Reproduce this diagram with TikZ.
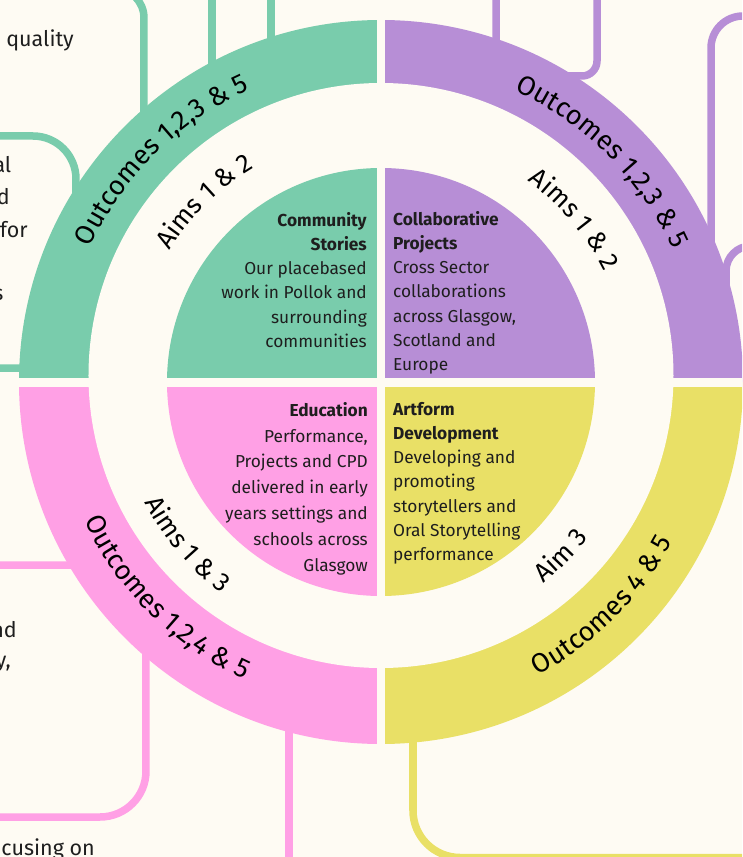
\documentclass[tikz,border=0pt]{standalone}
\usepackage{fontspec}
\setmainfont{Fira Sans}
\usetikzlibrary{decorations.text}

\definecolor{paper}{HTML}{FEFBF3}
\definecolor{cgreen}{HTML}{79CCAC}
\definecolor{cpurple}{HTML}{B78ED6}
\definecolor{cpink}{HTML}{FFA0E5}
\definecolor{cyellow}{HTML}{E9E066}
\definecolor{ink}{HTML}{1E1E1E}

\begin{document}
\begin{tikzpicture}[x=1pt,y=1pt,
  link/.style={line width=7.5pt},
  body/.style={inner sep=0pt, text=ink, font=\fontsize{17.3}{24.2}\selectfont},
  side/.style={inner sep=0pt, text=ink, font=\fontsize{21.5}{24}\selectfont, anchor=base east},
  outcometext/.style={decorate, decoration={text along path, text align=center,
      text color=black, text={|\fontsize{27}{27}\selectfont|#1}}},
  aimtext/.style={decorate, decoration={text along path, text align=center,
      text color=black, text={|\fontsize{26}{26}\selectfont|#1}}}
]
\useasboundingbox (-381,-475) rectangle (361,382);
\clip (-381,-475) rectangle (361,382);
\fill[paper] (-381,-475) rectangle (361,382);

% ---- boxes and links around the wheel (partly hidden behind it) ----
\draw[cgreen, link, rounded corners=30] (-300,394) -- (-237,394) -- (-237,250);
\draw[cgreen, link] (-169,392) -- (-169,300);
\draw[cgreen, link] (-110,392) -- (-110,320);
\draw[cgreen, link, rounded corners=43] (-420,246) -- (-305,246) -- (-305,14) -- (-420,14);

\draw[cpurple, link, rounded corners=15] (115,400) -- (115,306) -- (216,306) -- (216,400);
\draw[cpurple, link, rounded corners=32] (330,100) -- (330,366) -- (420,366);
\draw[cpurple, link, rounded corners=25] (345,60) -- (345,136) -- (420,136);

\draw[cpink, link, rounded corners=46] (-420,-183) -- (-235,-183) -- (-235,-435) -- (-420,-435);
\draw[cpink, link] (-92,-300) -- (-92,-490);

\draw[cyellow, link, rounded corners=47] (32,-300) -- (32,-475.5) -- (420,-475.5);

% ---- text of the neighbouring boxes ----
\node[side] (t1) at (-307,335.5) {quality};
\node[side] (t2) at (-369.5,209) {al};
\node[side] (t3) at (-371,177) {d};
\node[side] (t4) at (-353,144) {for};
\node[side] (t5) at (-377.5,82) {s};
\node[side] (t6) at (-364,-255) {nd};
\node[side] (t7) at (-370,-285) {y,};
\node[side] (t8) at (-286,-473) {cusing on};

% ---- outer ring ----
\fill[cgreen]  (0,0) -- (180:362) arc[start angle=180, end angle=90,  radius=362] -- cycle;
\fill[cpurple] (0,0) -- (90:362)  arc[start angle=90,  end angle=0,   radius=362] -- cycle;
\fill[cpink]   (0,0) -- (180:362) arc[start angle=180, end angle=270, radius=362] -- cycle;
\fill[cyellow] (0,0) -- (270:362) arc[start angle=270, end angle=360, radius=362] -- cycle;
\fill[paper] (0,6.5) circle[radius=292.5];

% ---- inner quarters ----
\fill[cgreen]  (0,0) -- (180:214) arc[start angle=180, end angle=90,  radius=214] -- cycle;
\fill[cpurple] (0,0) -- (90:214)  arc[start angle=90,  end angle=0,   radius=214] -- cycle;
\fill[cpink]   (0,0) -- (180:214) arc[start angle=180, end angle=270, radius=214] -- cycle;
\fill[cyellow] (0,0) -- (270:214) arc[start angle=270, end angle=360, radius=214] -- cycle;

% ---- gaps between the quarters ----
\fill[paper] (-4,-363) rectangle (4,363);
\fill[paper] (-363,-5) rectangle (363,4);

% ---- ring labels ----
\path[outcometext={Outcomes 1,2,3 {\&} 5}] (179.7:320.5) arc[start angle=179.7, end angle=89.7, radius=320.5];
\path[outcometext={Outcomes 1,2,3 {\&} 5}] (89.9:320.5) arc[start angle=89.9, end angle=-0.1, radius=320.5];
\path[outcometext={Outcomes 1,2,4 {\&} 5}] (180.2:327.5) arc[start angle=180.2, end angle=270.2, radius=327.5];
\path[outcometext={Outcomes 4 {\&} 5}] (-90.3:332.5) arc[start angle=-90.3, end angle=-0.3, radius=332.5];

\path[aimtext={Aims 1 {\&} 2}] (179.4:249) arc[start angle=179.4, end angle=89.4, radius=249];
\path[aimtext={Aims 1 {\&} 2}] (85:249) arc[start angle=85, end angle=-5, radius=249];
\path[aimtext={Aims 1 {\&} 3}] (175:265) arc[start angle=175, end angle=265, radius=265];
\path[aimtext={Aim 3}] (-89:259) arc[start angle=-89, end angle=1, radius=259];

% ---- quarter descriptions ----
\node[body, anchor=north east, align=right] (community) at (-14,170)
  {\textbf{Community}\\\textbf{Stories}\\Our placebased\\work in Pollok and\\surrounding\\communities};
\node[body, anchor=north west, align=left] (collab) at (12,171)
  {\textbf{Collaborative}\\\textbf{Projects}\\Cross Sector\\collaborations\\across Glasgow,\\Scotland and\\Europe};
\node[body, anchor=north east, align=right, font=\fontsize{17.3}{25.8}\selectfont] (education) at (-13,-20)
  {\textbf{Education}\\Performance,\\Projects and CPD\\delivered in early\\years settings and\\schools across\\Glasgow};
\node[body, anchor=north west, align=left] (artform) at (12,-20)
  {\textbf{Artform}\\\textbf{Development}\\Developing and\\promoting\\storytellers and\\Oral Storytelling\\performance};
\end{tikzpicture}
\end{document}
